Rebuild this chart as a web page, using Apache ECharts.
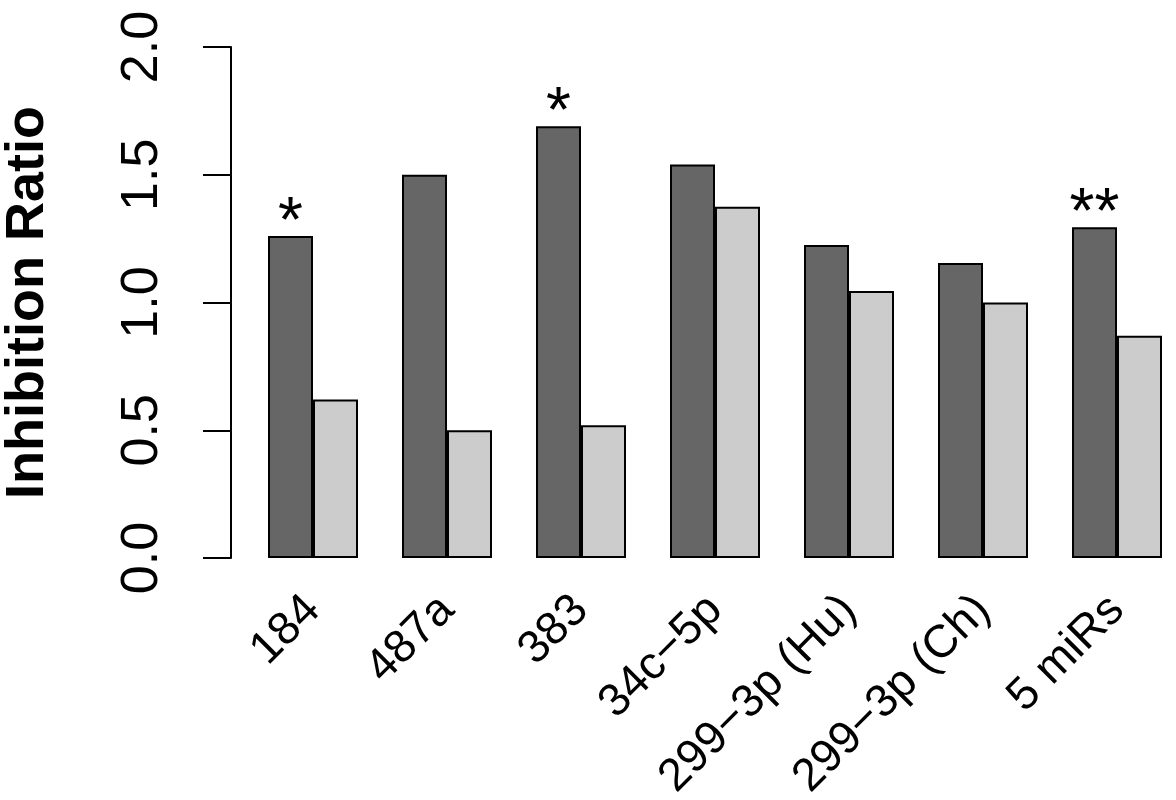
<!DOCTYPE html>
<html>
<head>
<meta charset="utf-8">
<script src="https://cdn.jsdelivr.net/npm/echarts@6/dist/echarts.min.js"></script>
<style>
  html, body { margin: 0; padding: 0; background: #fff; }
  #chart { width: 1176px; height: 800px; }
</style>
</head>
<body>
<div id="chart"></div>
<script>
// datos
const categories = ['184', '487a', '383', '34c\u22125p', '299\u22123p (Hu)', '299\u22123p (Ch)', '5 miRs'];
const darkValues = [1.26, 1.50, 1.69, 1.54, 1.225, 1.155, 1.295];
const lightValues = [0.62, 0.50, 0.52, 1.375, 1.045, 1.00, 0.87];
const stars = ['*', '', '*', '', '', '', '**'];
const yTicks = [0, 0.5, 1.0, 1.5, 2.0];

const FONT = 'Liberation Sans, Arial, Helvetica, sans-serif';

const chart = echarts.init(document.getElementById('chart'), null, { renderer: 'canvas' });

chart.setOption({
  backgroundColor: '#ffffff',
  animation: false,
  grid: {
    left: 246, right: -8, top: 47, bottom: 242,
    containLabel: false,
    outerBoundsMode: 'none'
  },
  xAxis: {
    type: 'category',
    data: categories,
    boundaryGap: true,
    axisLine: { show: false },
    axisTick: { show: false },
    axisLabel: {
      rotate: 45,
      margin: 45,
      fontSize: 46,
      fontFamily: FONT,
      color: '#000',
      interval: 0
    }
  },
  yAxis: {
    type: 'value',
    min: yTicks[0],
    max: yTicks[yTicks.length - 1],
    interval: 0.5,
    offset: 15,
    name: 'Inhibition Ratio',
    nameLocation: 'middle',
    nameRotate: 90,
    nameGap: 176,
    nameTextStyle: { fontSize: 54, fontWeight: 'bold', fontFamily: FONT, color: '#000' },
    splitLine: { show: false },
    axisLine: { show: true, lineStyle: { color: '#000', width: 2 } },
    axisTick: { show: true, length: 28, lineStyle: { color: '#000', width: 2 } },
    axisLabel: {
      rotate: 90,
      margin: 62,
      fontSize: 52,
      fontFamily: FONT,
      color: '#000',
      formatter: v => v.toFixed(1)
    }
  },
  series: [
    {
      type: 'bar',
      data: darkValues,
      barWidth: 45,
      barGap: '0%',
      itemStyle: { color: '#666666', borderColor: '#000', borderWidth: 2 },
      label: {
        show: true,
        position: 'top',
        distance: -20,
        fontSize: 64,
        fontFamily: FONT,
        color: '#000',
        formatter: p => stars[p.dataIndex]
      }
    },
    {
      type: 'bar',
      data: lightValues,
      barWidth: 45,
      barGap: '0%',
      itemStyle: { color: '#cccccc', borderColor: '#000', borderWidth: 2 }
    }
  ]
});
</script>
</body>
</html>
